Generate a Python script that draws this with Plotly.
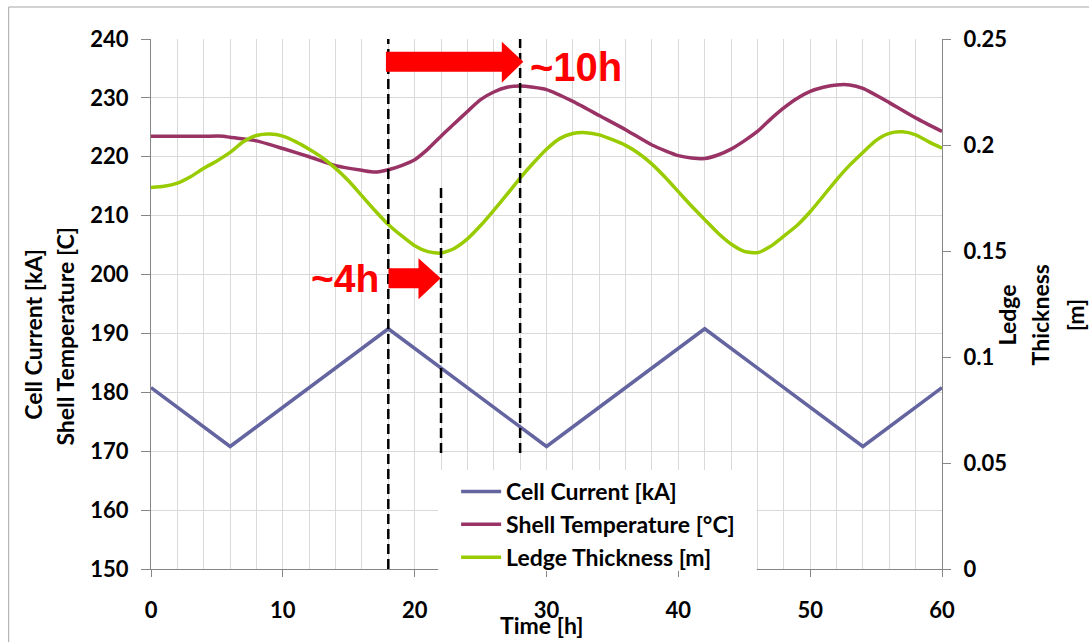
import plotly.graph_objects as go

# ---------------- data ----------------
time_current = [0, 6, 18, 30, 42, 54, 60]
cell_current = [180.8, 170.8, 190.8, 170.8, 190.8, 170.8, 180.8]

time_shell = [0, 2, 4, 5.5, 6, 8, 10, 12, 14, 16, 17, 18, 19, 20, 21, 22, 23, 24, 25, 26,
              27, 28, 29, 30, 32, 34, 36, 38, 40, 41, 42, 43, 44, 45, 46, 47, 48, 49, 50,
              51, 52, 53, 54, 56, 58, 60]
shell_temp = [223.5, 223.5, 223.5, 223.5, 223.3, 222.7, 221.4, 220.0, 218.5, 217.7, 217.4,
              217.8, 218.5, 219.5, 221.3, 223.5, 225.6, 227.7, 229.7, 231.0, 231.8, 232.0,
              231.8, 231.4, 229.4, 227.0, 224.6, 222.0, 220.2, 219.8, 219.7, 220.3, 221.3,
              222.7, 224.3, 226.4, 228.3, 229.9, 231.1, 231.8, 232.2, 232.2, 231.6, 229.2,
              226.6, 224.3]

time_ledge = list(range(0, 61))
ledge = [0.1800, 0.1805, 0.1820, 0.1850, 0.1890, 0.1925, 0.1965, 0.2015, 0.2045, 0.2052,
         0.2042, 0.2015, 0.1980, 0.1940, 0.1890, 0.1830, 0.1760, 0.1690, 0.1625, 0.1572,
         0.1525, 0.1497, 0.1490, 0.1512, 0.1557, 0.1620, 0.1692, 0.1767, 0.1844, 0.1915,
         0.1980, 0.2030, 0.2054, 0.2058, 0.2048, 0.2025, 0.1998, 0.1960, 0.1910, 0.1848,
         0.1780, 0.1712, 0.1648, 0.1585, 0.1533, 0.1498, 0.1492, 0.1522, 0.1570, 0.1620,
         0.1685, 0.1760, 0.1836, 0.1905, 0.1965, 0.2022, 0.2055, 0.2062, 0.2048, 0.2015,
         0.1985]

series_names = ["Cell Current [kA]", "Shell Temperature [\u00b0C]", "Ledge Thickness [m]"]
series_colors = ["#6464A0", "#993366", "#99CC00"]

x_ticks = [0, 10, 20, 30, 40, 50, 60]
left_ticks = [150, 160, 170, 180, 190, 200, 210, 220, 230, 240]
right_ticks = [0, 0.05, 0.1, 0.15, 0.2, 0.25]
right_tick_text = ["0", "0.05", "0.1", "0.15", "0.2", "0.25"]

# dashed marker lines: (x, y_start, y_end) in left-axis units
dashed_x = [18, 22, 28]
dashed_y0 = [150, 169.7, 169.7]
dashed_y1 = [240, 215.5, 240]

# block arrows (hours / left-axis units): shaft_x0, head_x0, tip_x, shaft_y0, shaft_y1, head_y0, head_y1, tip_y
arrow_long = [17.82, 26.61, 28.24, 234.45, 237.84, 232.58, 239.54, 236.15]
arrow_short = [18.02, 20.29, 21.98, 197.67, 201.06, 195.80, 202.76, 199.36]
labels_text = ["~10h", "~4h"]
labels_x = [32.2, 14.7]
labels_y = [235.3, 199.4]

FONT = "Lato"
GRID = "#D9D9D9"
AXIS = "#868686"

fig = go.Figure()
fig.add_trace(go.Scatter(x=time_current, y=cell_current, mode="lines", name=series_names[0],
                         line=dict(color=series_colors[0], width=3.5), legendgroup="a"))
fig.add_trace(go.Scatter(x=time_shell, y=shell_temp, mode="lines", name=series_names[1],
                         line=dict(color=series_colors[1], width=3.5, shape="spline", smoothing=0.6),
                         legendgroup="b"))
fig.add_trace(go.Scatter(x=time_ledge, y=ledge, mode="lines", name=series_names[2], yaxis="y2",
                         line=dict(color=series_colors[2], width=3.5, shape="spline", smoothing=0.6),
                         legendgroup="c"))

L, R, T, B = 150.5, 146.5, 39, 73
W, H = 1089, 642
pw, ph = W - L - R, H - T - B


def px_x(p):
    return (p - L) / pw


def px_y(p):
    return (H - B - p) / ph


shapes = []
# outer frame
shapes.append(dict(type="rect", xref="paper", yref="paper", x0=px_x(8), x1=px_x(1100),
                   y0=px_y(660), y1=px_y(7), line=dict(color="#A6A6A6", width=1), layer="below"))
# legend background
shapes.append(dict(type="rect", xref="paper", yref="paper", x0=px_x(438), x1=px_x(757),
                   y0=px_y(571), y1=px_y(470), fillcolor="white", line=dict(width=0), layer="above"))
for xv, y0, y1 in zip(dashed_x, dashed_y0, dashed_y1):
    shapes.append(dict(type="line", xref="x", yref="y", x0=xv, x1=xv, y0=y0, y1=y1,
                       line=dict(color="black", width=2.5, dash="10px,5px"), layer="above"))
for a in (arrow_long, arrow_short):
    sx0, hx0, tx, sy0, sy1, hy0, hy1, ty = a
    path = (f"M{sx0},{sy0} L{hx0},{sy0} L{hx0},{hy0} L{tx},{ty} L{hx0},{hy1} "
            f"L{hx0},{sy1} L{sx0},{sy1} Z")
    shapes.append(dict(type="path", xref="x", yref="y", path=path, fillcolor="#FF0000",
                       line=dict(width=0), layer="above"))

TITLE = dict(family=FONT, size=23, color="black", weight="bold")
C = dict(xanchor="center", yanchor="middle", showarrow=False)

annotations = []
for t, xv, yv, sz in zip(labels_text, labels_x, labels_y, [40, 39]):
    annotations.append(dict(text=t, x=xv, y=yv, xref="x", yref="y", **C,
                            font=dict(family="Liberation Sans", size=sz, color="#FF0000", weight="bold")))
# axis titles
annotations.append(dict(text="Time [h]", x=px_x(541), y=px_y(625), xref="paper", yref="paper",
                        font=TITLE, **C))
annotations.append(dict(text="Cell Current [kA]", x=px_x(32), y=px_y(334), xref="paper", yref="paper",
                        textangle=-90, font=TITLE, **C))
annotations.append(dict(text="Shell Temperature [C]", x=px_x(64), y=px_y(336), xref="paper", yref="paper",
                        textangle=-90, font=TITLE, **C))
for t, xp in zip(["Ledge", "Thickness", "[m]"], [1008, 1041, 1076]):
    annotations.append(dict(text=t, x=px_x(xp), y=px_y(315), xref="paper", yref="paper",
                            textangle=-90, font=TITLE, **C))

tickfont = dict(family=FONT, size=22, color="black", weight="bold")

fig.update_layout(
    width=W, height=H,
    margin=dict(l=L, r=R, t=T, b=B, pad=0),
    paper_bgcolor="white", plot_bgcolor="white",
    showlegend=True,
    legend=dict(x=px_x(456), y=px_y(470), xanchor="left", yanchor="top",
                bgcolor="rgba(0,0,0,0)", borderwidth=0, tracegroupgap=0,
                font=dict(family=FONT, size=23, color="black", weight="bold"),
                itemwidth=40),
    xaxis=dict(range=[0, 60], tickvals=x_ticks, ticks="outside", ticklen=7, tickcolor=AXIS,
               showline=True, linecolor=AXIS, linewidth=1, showgrid=True, gridcolor=GRID,
               gridwidth=1, zeroline=False, tickfont=tickfont, ticklabelstandoff=15,
               minor=dict(dtick=2, showgrid=True, gridcolor=GRID, gridwidth=1, ticks="")),
    yaxis=dict(range=[150, 240], tickvals=left_ticks, ticks="outside", ticklen=9, tickcolor=AXIS,
               showline=True, linecolor=AXIS, linewidth=1, showgrid=True, gridcolor=GRID,
               gridwidth=1, zeroline=False, tickfont=tickfont, ticklabelstandoff=8),
    yaxis2=dict(range=[0, 0.25], tickvals=right_ticks, ticktext=right_tick_text, overlaying="y",
                side="right", ticks="outside", ticklen=8, tickcolor=AXIS, showline=True,
                linecolor=AXIS, linewidth=1, showgrid=False, zeroline=False, tickfont=tickfont,
                ticklabelstandoff=8),
    shapes=shapes,
    annotations=annotations,
)

fig.write_html("out.html")
